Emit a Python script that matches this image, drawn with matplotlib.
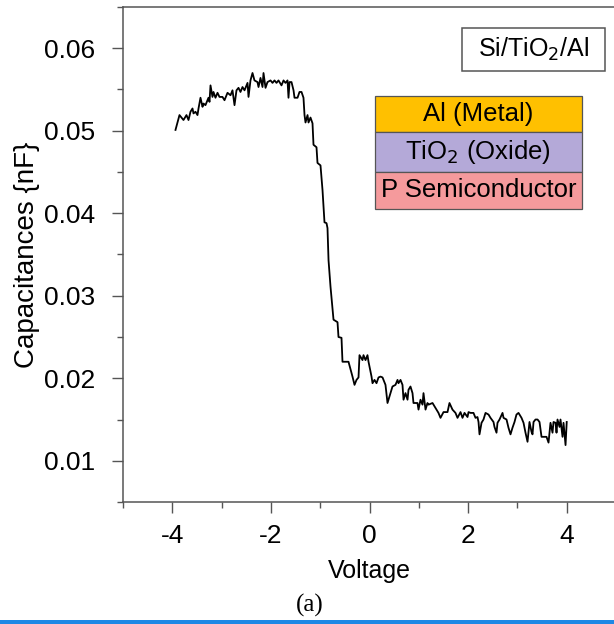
import matplotlib
matplotlib.use('Agg')
import matplotlib.pyplot as plt
from matplotlib.patches import Rectangle
from matplotlib.ticker import MultipleLocator

plt.rcParams['font.family'] = ['Liberation Sans', 'DejaVu Sans']
plt.rcParams['axes.unicode_minus'] = False

# C-V curve (voltage in V, capacitance in nF)
voltage = [-3.935, -3.854, -3.813, -3.773, -3.712, -3.671, -3.631, -3.590, -3.570, -3.529,
           -3.489, -3.468, -3.428, -3.387, -3.367, -3.327, -3.266, -3.245, -3.225, -3.185,
           -3.164, -3.124, -3.083, -3.043, -2.982, -2.941, -2.880, -2.819, -2.779, -2.738,
           -2.698, -2.657, -2.617, -2.576, -2.535, -2.474, -2.454, -2.414, -2.373, -2.333,
           -2.272, -2.251, -2.211, -2.170, -2.150, -2.109, -2.069, -2.008, -1.967, -1.927,
           -1.886, -1.846, -1.785, -1.744, -1.704, -1.663, -1.643, -1.622, -1.582, -1.541,
           -1.521, -1.460, -1.420, -1.379, -1.339, -1.318, -1.298, -1.257, -1.237, -1.197,
           -1.156, -1.136, -1.075, -1.055, -0.994, -0.953, -0.933, -0.913, -0.872, -0.852,
           -0.831, -0.791, -0.730, -0.649, -0.629, -0.568, -0.548, -0.426, -0.345, -0.304,
           -0.264, -0.223, -0.203, -0.142, -0.122, -0.081, -0.041, -0.020, 0.041, 0.061,
           0.101, 0.142, 0.183, 0.223, 0.264, 0.324, 0.365, 0.426, 0.466, 0.527,
           0.568, 0.588, 0.629, 0.669, 0.690, 0.730, 0.771, 0.791, 0.831, 0.872,
           0.892, 0.973, 0.994, 1.034, 1.075, 1.095, 1.136, 1.176, 1.197, 1.278,
           1.339, 1.399, 1.440, 1.501, 1.582, 1.622, 1.683, 1.744, 1.785, 1.846,
           1.886, 1.927, 1.988, 2.008, 2.049, 2.109, 2.150, 2.190, 2.211, 2.231,
           2.272, 2.312, 2.353, 2.414, 2.454, 2.515, 2.535, 2.576, 2.596, 2.637,
           2.698, 2.718, 2.779, 2.819, 2.860, 2.900, 2.941, 2.981, 3.022, 3.083,
           3.124, 3.164, 3.205, 3.225, 3.245, 3.286, 3.306, 3.327, 3.367, 3.408,
           3.448, 3.489, 3.590, 3.631, 3.671, 3.712, 3.732, 3.773, 3.793, 3.813,
           3.854, 3.874, 3.915, 3.935, 3.976, 4.000]
capacitance = [0.0501, 0.0519, 0.0516, 0.0513, 0.0519, 0.0513, 0.0523, 0.0527, 0.0521, 0.0523,
               0.0519, 0.0527, 0.0540, 0.0529, 0.0533, 0.0531, 0.0540, 0.0535, 0.0555, 0.0541,
               0.0547, 0.0540, 0.0546, 0.0541, 0.0541, 0.0537, 0.0546, 0.0543, 0.0549, 0.0531,
               0.0549, 0.0552, 0.0547, 0.0553, 0.0549, 0.0558, 0.0541, 0.0561, 0.0570, 0.0561,
               0.0559, 0.0553, 0.0564, 0.0553, 0.0570, 0.0552, 0.0559, 0.0561, 0.0558, 0.0561,
               0.0558, 0.0561, 0.0555, 0.0561, 0.0558, 0.0561, 0.0540, 0.0559, 0.0559, 0.0549,
               0.0540, 0.0540, 0.0547, 0.0547, 0.0540, 0.0519, 0.0510, 0.0519, 0.0510, 0.0516,
               0.0509, 0.0483, 0.0480, 0.0461, 0.0458, 0.0428, 0.0408, 0.0389, 0.0388, 0.0382,
               0.0343, 0.0311, 0.0271, 0.0268, 0.0250, 0.0249, 0.0220, 0.0220, 0.0202, 0.0192,
               0.0198, 0.0201, 0.0228, 0.0222, 0.0228, 0.0222, 0.0228, 0.0220, 0.0202, 0.0194,
               0.0198, 0.0194, 0.0201, 0.0202, 0.0201, 0.0192, 0.0170, 0.0182, 0.0190, 0.0192,
               0.0198, 0.0194, 0.0198, 0.0192, 0.0174, 0.0182, 0.0174, 0.0186, 0.0190, 0.0182,
               0.0170, 0.0170, 0.0162, 0.0174, 0.0168, 0.0182, 0.0162, 0.0170, 0.0168, 0.0170,
               0.0164, 0.0158, 0.0152, 0.0159, 0.0159, 0.0170, 0.0162, 0.0158, 0.0152, 0.0159,
               0.0152, 0.0158, 0.0153, 0.0159, 0.0158, 0.0158, 0.0152, 0.0153, 0.0147, 0.0132,
               0.0146, 0.0150, 0.0158, 0.0156, 0.0152, 0.0147, 0.0141, 0.0134, 0.0146, 0.0150,
               0.0158, 0.0152, 0.0150, 0.0140, 0.0132, 0.0140, 0.0147, 0.0156, 0.0158, 0.0152,
               0.0146, 0.0134, 0.0123, 0.0135, 0.0147, 0.0135, 0.0132, 0.0147, 0.0150, 0.0150,
               0.0147, 0.0129, 0.0129, 0.0122, 0.0146, 0.0134, 0.0147, 0.0146, 0.0134, 0.0150,
               0.0141, 0.0150, 0.0129, 0.0146, 0.0119, 0.0147]

layer_labels = ['Al (Metal)', 'TiO$_2$ (Oxide)', 'P Semiconductor']
layer_colors = ['#FFC000', '#B4A9D8', '#F59A9C']
sample_label = 'Si/TiO$_2$/Al'

fig = plt.figure(figsize=(6.14, 6.24), dpi=100)
ax = fig.add_axes([0.2003, 0.1955, 0.803, 0.7933])

ax.plot(voltage, capacitance, color='black', linewidth=1.3)

ax.set_xlim(-5, 5)
ax.set_ylim(0.005, 0.065)
ax.set_xticks([-4, -2, 0, 2, 4])
ax.set_yticks([0.01, 0.02, 0.03, 0.04, 0.05, 0.06])
ax.xaxis.set_minor_locator(MultipleLocator(1))
ax.yaxis.set_minor_locator(MultipleLocator(0.005))
ax.tick_params(which='major', direction='out', length=8, width=1, colors='#555555',
               labelcolor='black', labelsize=19)
ax.tick_params(axis='x', which='major', pad=8)
ax.tick_params(axis='y', which='major', pad=12)
ax.tick_params(which='minor', direction='out', length=4, width=1, colors='#555555')
for s in ax.spines.values():
    s.set_color('#555555')
    s.set_linewidth(1.1)

ax.set_xlabel('Voltage', fontsize=18, labelpad=8)
ax.set_ylabel('Capacitances {nF}', fontsize=20, labelpad=3)

# sample name box
ax.add_patch(Rectangle((0.688, 0.871), 0.29, 0.087, transform=ax.transAxes,
                       facecolor='white', edgecolor='#555555', linewidth=1.1))
ax.text(0.833, 0.914, sample_label, transform=ax.transAxes, ha='center', va='center', fontsize=18)

# layer stack
tops = [0.820, 0.747, 0.667]
bottoms = [0.747, 0.667, 0.592]
for lab, col, t, b in zip(layer_labels, layer_colors, tops, bottoms):
    ax.add_patch(Rectangle((0.511, b), 0.42, t - b, transform=ax.transAxes,
                           facecolor=col, edgecolor='#555555', linewidth=0.9))
    ax.text(0.721, (t + b) / 2, lab, transform=ax.transAxes, ha='center', va='center', fontsize=18.5)

fig.text(0.505, 0.030, '(a)', ha='center', va='center', fontsize=18, family='Liberation Serif')
fig.patches.append(Rectangle((0, 0), 1, 0.006, transform=fig.transFigure,
                             facecolor='#1E88E5', edgecolor='none'))

fig.savefig('out.png', dpi=100)
